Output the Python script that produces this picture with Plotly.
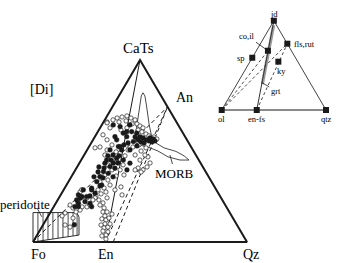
import numpy as np
import plotly.graph_objects as go

# ---------------- main projection Fo - Qz - CaTs (base Fo-Qz = 100 units)
corner_names = ["Fo", "Qz", "CaTs"]
corner_x = [0.0, 100.0, 50.0]
corner_y = [0.0, 0.0, 86.6]

join_names = ["En", "An"]
join_x = [33.8, 62.85]
join_y = [0.0, 64.3]
en2_x = 37.5

filled_x = [37.5, 40.7, 45.3, 46.1, 48.5, 50.0, 51.4, 52.8, 54.2, 55.6, 57.0, 51.9, 50.5, 49.1, 47.7,
            46.9, 43.8, 41.4, 39.9, 38.3, 39.1, 37.5, 42.2, 45.3, 34.4, 33.6, 36.0, 38.3, 32.9, 35.2,
            31.3, 29.8, 32.1, 27.4, 29.0, 22.0, 20.4, 24.3, 27.4, 21.2, 19.6, 19.3, 27.4, 26.6, 21.2,
            37.4, 40.7, 43.8, 42.2, 39.1, 36.0, 37.4, 39.7, 35.0, 33.2, 30.4, 32.7, 23.5, 25.1, 22.8,
            21.2, 45.3, 44.4, 48.6, 42.5, 40.2, 36.4, 30.8, 28.5, 54.7, 56.1, 43.9, 31.3, 26.6]
filled_y = [55.7, 54.9, 55.7, 52.5, 51.8, 50.0, 49.5, 48.6, 48.1, 47.6, 48.1, 47.1, 47.6, 48.6, 50.0,
            47.8, 50.1, 43.8, 45.4, 50.1, 39.9, 37.5, 39.0, 37.5, 39.0, 37.5, 35.9, 35.1, 33.5, 32.7,
            31.1, 28.7, 27.1, 25.6, 23.2, 20.8, 20.0, 19.2, 16.8, 18.4, 16.8, 8.2, 24.8, 18.4, 22.4,
            31.0, 45.4, 52.5, 51.8, 48.6, 43.8, 41.4, 37.6, 41.0, 35.2, 33.3, 30.5, 24.8, 21.6, 21.6,
            16.8, 43.8, 47.1, 45.7, 46.2, 41.0, 39.0, 35.7, 31.0, 49.5, 49.0, 34.3, 26.7, 21.9]

open_x = [39.3, 41.6, 43.9, 45.8, 47.7, 43.5, 46.3, 48.6, 50.0, 51.4, 40.2, 37.4, 34.6, 41.1, 43.9,
          36.0, 49.1, 50.9, 52.8, 54.2, 56.5, 57.9, 49.5, 46.7, 44.4, 50.5, 52.8, 53.7, 47.7, 43.0,
          40.7, 38.8, 36.9, 34.6, 32.7, 31.3, 29.0, 34.6, 34.6,
          33.6, 36.9, 39.3, 42.1, 35.0, 40.7, 42.5, 36.9, 38.8, 35.0, 33.6, 31.3, 33.2, 30.4, 36.0,
          41.1, 41.6, 38.3, 29.4, 30.8, 32.7, 34.6, 34.1, 31.8,
          31.3, 33.2, 32.7, 34.6, 33.6, 32.2, 34.1, 35.5, 33.6, 31.8, 33.2, 35.0, 32.7, 35.0, 34.1,
          32.2, 34.1, 36.0, 36.9,
          22.0, 22.9, 21.0, 25.2, 22.9, 26.6, 29.0, 25.2, 18.7, 15.0, 22.0, 28.0, 17.3, 20.1, 13.6, 22.8,
          15.0, 17.3, 18.7,
          53.3, 51.4, 49.1, 54.7, 50.5, 52.3, 50.0, 47.7]
open_y = [59.0, 59.5, 60.0, 59.0, 58.1, 57.6, 56.2, 56.2, 55.2, 54.3, 57.1, 58.1, 57.1, 53.3, 54.3,
          54.3, 53.3, 52.4, 51.4, 50.5, 50.0, 49.0, 46.2, 45.2, 43.8, 43.3, 44.8, 40.5, 41.4, 41.0,
          42.4, 42.9, 46.2, 48.6, 51.0, 45.2, 44.8, 43.8, 56.7,
          41.4, 40.0, 38.1, 36.7, 36.7, 34.3, 31.9, 34.3, 31.4, 29.5, 31.9, 28.6, 25.7, 24.8, 27.1,
          26.2, 22.4, 24.8, 21.9, 20.0, 18.6, 21.0, 23.8, 22.9,
          17.6, 16.2, 14.3, 14.3, 12.4, 11.0, 10.5, 11.4, 8.6, 8.1, 6.7, 7.1, 5.2, 4.8, 3.3,
          2.9, 1.4, 8.6, 13.3,
          23.8, 21.4, 19.0, 16.7, 16.7, 17.6, 21.0, 21.0, 16.2, 13.8, 15.2, 20.0, 17.6, 14.3, 12.4, 24.9,
          8.1, 7.1, 11.4,
          35.7, 34.3, 35.2, 37.6, 33.3, 41.4, 39.0, 34.3]

morb_x = [51.4, 52.3, 53.0, 53.6, 54.3, 55.3, 57.5, 61.2, 66.8, 70.6, 72.9, 68.7, 63.1, 58.4, 54.7,
          51.4, 48.1, 47.9, 48.6, 49.3, 49.9, 50.6, 51.4]
morb_y = [71.0, 69.5, 65.2, 60.5, 55.7, 51.0, 47.1, 44.8, 43.1, 41.0, 39.0, 39.0, 40.5, 43.3, 44.8,
          45.7, 47.1, 51.0, 55.7, 60.5, 65.2, 69.5, 71.0]

perid_x = [0.0, 20.1, 21.0, 21.5, 21.5, 0.0, 0.0]
perid_y = [14.0, 14.0, 13.1, 11.8, 3.3, 0.0, 14.0]
hatch_x = [2.3, 4.7, 7.0, 9.3, 11.7, 14.0, 16.4, 18.7, 20.6]

# ---------------- inset ol - qtz - jd
phase_names = ["jd", "fls,rut", "sp", "co,il", "ky", "ol", "en-fs", "qtz"]
phase_x = [50.0, 62.9, 29.3, 44.3, 54.3, 0.0, 33.6, 100.0]
phase_y = [86.6, 64.3, 50.7, 57.5, 46.9, 0.0, 0.0, 0.0]

FONT = "Liberation Serif"
INK = "#1a1a1a"
TXT = "#000000"

fig = go.Figure()

def line(xs, ys, width=1.0, color=INK, dash=None, axes=("x", "y")):
    fig.add_trace(go.Scatter(x=xs, y=ys, mode="lines", xaxis=axes[0], yaxis=axes[1],
                             line=dict(color=color, width=width, dash=dash),
                             hoverinfo="skip"))

# main triangle
line(corner_x + [corner_x[0]], corner_y + [corner_y[0]], width=2.0)
# En - CaTs join
line([join_x[0], corner_x[2]], [join_y[0], corner_y[2]], width=1.0)
# dashed joins to An
DASH = "4px,3px"
line([corner_x[0], join_x[1]], [corner_y[0], join_y[1]], width=1.0, dash=DASH)
line([join_x[0], join_x[1]], [join_y[0], join_y[1]], width=1.0, dash=DASH)
line([en2_x, join_x[1]], [0.0, join_y[1]], width=1.0, dash=DASH)

# peridotite field with hatching
line(perid_x, perid_y, width=0.9)
top_interp = np.interp(hatch_x, [0.0, 20.1, 21.0, 21.5], [14.0, 14.0, 13.1, 11.8])
hx, hy = [], []
for xv, tv in zip(hatch_x, top_interp):
    hx += [xv, xv, None]
    hy += [xv * 3.3 / 21.5, tv, None]
line(hx, hy, width=0.8)
line([2.0, 4.1], [16.0, 12.0], width=0.8)

# MORB field
line(morb_x, morb_y, width=0.9, color="#333")

# data points
fig.add_trace(go.Scatter(x=open_x, y=open_y, mode="markers", hoverinfo="skip",
                         marker=dict(symbol="circle", size=4.3, color="white",
                                     line=dict(color=INK, width=0.7))))
fig.add_trace(go.Scatter(x=filled_x, y=filled_y, mode="markers", hoverinfo="skip",
                         marker=dict(symbol="circle", size=4.8, color=INK,
                                     line=dict(color=INK, width=0.4))))

# ---------------- inset drawing
A2 = ("x2", "y2")
P = dict(zip(phase_names, zip(phase_x, phase_y)))
line([P["ol"][0], P["qtz"][0]], [P["ol"][1], P["qtz"][1]], width=2.0, color="#8a8a8a", axes=A2)
line([P["ol"][0], P["jd"][0], P["qtz"][0]], [P["ol"][1], P["jd"][1], P["qtz"][1]],
     width=1.0, color="#444", axes=A2)
# garnet band along jd - en-fs
s = np.array([0.05, 0.71])
gx = P["jd"][0] + (P["en-fs"][0] - P["jd"][0]) * s
gy = P["jd"][1] + (P["en-fs"][1] - P["jd"][1]) * s
line(list(gx + 0.6), list(gy), width=3.2, color="#9a9a9a", axes=A2)
line([P["jd"][0], P["en-fs"][0]], [P["jd"][1], P["en-fs"][1]], width=1.0, color="#333", axes=A2)
for a, b in [("ol", "co,il"), ("ol", "fls,rut"), ("en-fs", "fls,rut")]:
    line([P[a][0], P[b][0]], [P[a][1], P[b][1]], width=0.9, color="#333", dash="3px,2.5px", axes=A2)
fig.add_trace(go.Scatter(x=phase_x, y=phase_y, mode="markers", xaxis="x2", yaxis="y2",
                         hoverinfo="skip",
                         marker=dict(symbol="square", size=6, color=INK)))

# ---------------- labels
ann = []
def label(text, x, y, size, xs=0, ys=0, ref=("x", "y"), xanchor="center", **kw):
    d = dict(text=text, x=x, y=y, xref=ref[0], yref=ref[1], showarrow=False,
             xshift=xs, yshift=ys, xanchor=xanchor, yanchor="middle",
             font=dict(family=FONT, size=size, color=TXT))
    d.update(kw)
    ann.append(d)

label("CaTs", corner_x[2], corner_y[2], 15, xs=-2, ys=12)
label("Fo", corner_x[0], corner_y[0], 14, xs=5, ys=-12)
label("Qz", corner_x[1], corner_y[1], 14, xs=4, ys=-12)
label("En", join_x[0], join_y[0], 14, xs=1, ys=-12)
label("An", join_x[1], join_y[1], 14, xs=17, ys=9)
label("[Di]", 4.2, 72.4, 14)
label("peridotite", -3.6, 17.8, 13)
ann.append(dict(text="MORB", x=64.0, y=41.4, xref="x", yref="y", showarrow=True,
                arrowhead=0, arrowwidth=0.8, arrowcolor=INK, ax=5, ay=18,
                font=dict(family=FONT, size=13, color=TXT)))

R2 = ("x2", "y2")
label("jd", P["jd"][0], P["jd"][1], 8.5, ys=7, ref=R2)
label("fls,rut", P["fls,rut"][0], P["fls,rut"][1], 8.5, xs=5, ref=R2, xanchor="left")
label("sp", P["sp"][0], P["sp"][1], 8.5, xs=-5, ref=R2, xanchor="right")
label("ky", P["ky"][0], P["ky"][1], 8.5, xs=3, ys=-9, ref=R2)
label("ol", P["ol"][0], P["ol"][1], 8.5, ys=-9, ref=R2)
label("en-fs", P["en-fs"][0], P["en-fs"][1], 8.5, ys=-9, ref=R2)
label("qtz", P["qtz"][0], P["qtz"][1], 8.5, ys=-9, ref=R2)
ann.append(dict(text="co,il", x=P["co,il"][0], y=P["co,il"][1], xref="x2", yref="y2",
                showarrow=True, arrowhead=0, arrowwidth=0.8, arrowcolor=INK, ax=-21, ay=-15,
                font=dict(family=FONT, size=8.5, color=TXT)))
ann.append(dict(text="grt", x=float(gx[1]), y=float(gy[1]) + 1.5, xref="x2", yref="y2",
                showarrow=True, arrowhead=0, arrowwidth=0.8, arrowcolor=INK, ax=14, ay=8,
                font=dict(family=FONT, size=8.5, color=TXT)))

fig.update_layout(
    width=338, height=263, margin=dict(l=0, r=0, t=0, b=0),
    paper_bgcolor="white", plot_bgcolor="white", showlegend=False,
    annotations=ann,
    xaxis=dict(range=[-15.42, 142.52], visible=False, domain=[0, 1], fixedrange=True),
    yaxis=dict(range=[-9.99, 115.15], visible=False, domain=[0, 1], fixedrange=True),
    xaxis2=dict(range=[-212.6, 111.5], visible=False, overlaying="x", anchor="y2", fixedrange=True),
    yaxis2=dict(range=[-148.4, 106.7], visible=False, overlaying="y", anchor="x2", fixedrange=True),
)

fig.write_html("out.html")
